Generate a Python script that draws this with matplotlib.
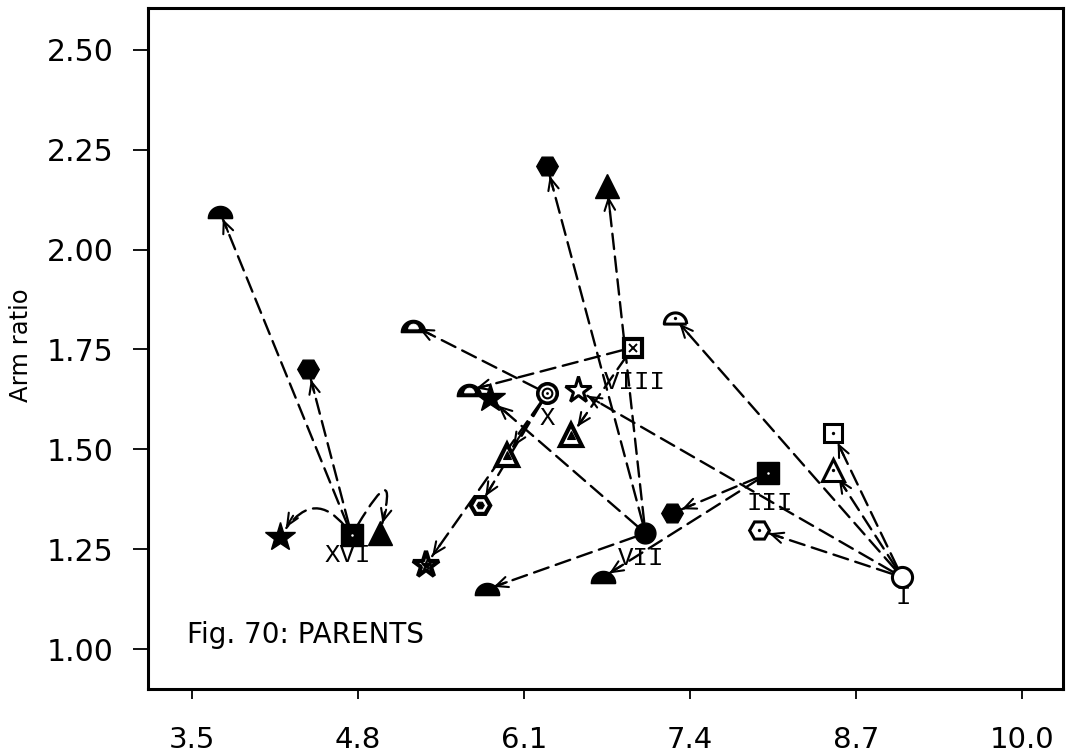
import numpy as np
import matplotlib
matplotlib.use("Agg")
import matplotlib.pyplot as plt
from matplotlib.patches import FancyArrowPatch

# ------------------------------------------------------------------ data
x_ticks = [3.5, 4.8, 6.1, 7.4, 8.7, 10.0]
x_tick_labels = ["3.5", "4.8", "6.1", "7.4", "8.7", "10.0"]
y_ticks = [1.00, 1.25, 1.50, 1.75, 2.00, 2.25, 2.50]
y_tick_labels = ["1.00", "1.25", "1.50", "1.75", "2.00", "2.25", "2.50"]

parent_names = ["XVI", "VII", "III", "X", "VIII", "I"]
parent_length = [4.75, 7.05, 8.01, 6.28, 6.95, 9.06]
parent_ratio = [1.285, 1.29, 1.44, 1.64, 1.755, 1.18]

child_parent = ["XVI", "XVI", "XVI", "XVI",
                "VII", "VII", "VII", "VII",
                "III", "III",
                "X", "X", "X", "X",
                "VIII", "VIII",
                "I", "I", "I", "I", "I"]
child_shape = ["half", "hex", "star", "tri",
               "hex", "tri", "star", "half",
               "hex", "half",
               "half", "tri", "hex", "star",
               "half", "tri",
               "sq", "tri", "hex", "half", "star"]
child_length = [3.72, 4.41, 4.19, 4.97,
                6.28, 6.75, 5.83, 5.81,
                7.26, 6.72,
                5.23, 5.97, 5.755, 5.33,
                5.67, 6.47,
                8.52, 8.52, 7.94, 7.28, 6.52]
child_ratio = [2.093, 1.70, 1.28, 1.29,
               2.21, 2.16, 1.628, 1.15,
               1.34, 1.18,
               1.81, 1.485, 1.36, 1.21,
               1.648, 1.535,
               1.54, 1.448, 1.298, 1.828, 1.648]

# ------------------------------------------------------------------ styles
family_fill = {"XVI": "filled", "VII": "filled", "III": "filled",
               "X": "hatched", "VIII": "hatched", "I": "open"}
parent_style = {"XVI": "sqfill", "VII": "circfill", "III": "sqfill",
                "X": "ring", "VIII": "box", "I": "circopen"}
label_offset = {"XVI": (-3, -14.5), "VII": (-3, -18), "III": (1.5, -21.5),
                "X": (0, -17.5), "VIII": (1.5, -25), "I": (0.7, -14.5)}
curved = {("XVI", "star"): "arc3,rad=0.78",
          ("XVI", "tri"): "angle3,angleA=60,angleB=75"}

t = np.linspace(0, np.pi, 41)
half_verts = np.column_stack([np.cos(t), np.sin(t) - 0.5])
half_verts = np.vstack([half_verts, half_verts[:1]])

shape_marker = {"half": half_verts, "hex": "H", "star": "*", "tri": "^", "sq": "s"}
shape_size = {"half": 17.5, "hex": 15.5, "star": 22.0, "tri": 17.0, "sq": 14.0}
shape_radius = {"half": 5.0, "hex": 7.5, "star": 8.0, "tri": 7.5, "sq": 7.5}

fig = plt.figure(figsize=(10.67, 7.55), dpi=100)
ax = fig.add_axes([148 / 1067, 1 - 689 / 755, 915 / 1067, 681 / 755])
ax.set_xlim(3.155, 10.32)
ax.set_ylim(0.90, 2.605)

for s in ax.spines.values():
    s.set_linewidth(2.2)
ax.set_xticks(x_ticks)
ax.set_xticklabels(x_tick_labels, fontfamily="DejaVu Sans", fontsize=21)
ax.set_yticks(y_ticks)
ax.set_yticklabels(y_tick_labels, fontfamily="DejaVu Sans", fontsize=21.5)
ax.tick_params(axis="x", direction="out", length=7, width=1.3, pad=20)
ax.tick_params(axis="y", direction="out", length=11, width=1.3, pad=14)
ax.set_ylabel("Arm ratio", fontfamily="DejaVu Sans", fontsize=17.5)
ax.yaxis.set_label_coords(-0.1257, 0.505)

ax.text(0.0426, 0.0675, "Fig. 70: PARENTS", transform=ax.transAxes,
        fontfamily="DejaVu Sans", fontsize=20, ha="left", va="baseline")

pidx = {n: i for i, n in enumerate(parent_names)}
px_per_pt = fig.dpi / 72.0


def intersection(x1, y1, c1, s1, x2, y2, c2, s2):
    a, b = s1, -c1
    c, d = s2, -c2
    det = a * d - b * c
    line1 = a * x1 + b * y1
    line2 = c * x2 + d * y2
    ia, ib = d / det, -b / det
    ic, idd = -c / det, a / det
    return ia * line1 + ib * line2, ic * line1 + idd * line2


def control_point(P, C, cs):
    if cs.startswith("arc3"):
        f = float(cs.split("rad=")[1])
        mx, my = (P[0] + C[0]) / 2, (P[1] + C[1]) / 2
        dx, dy = C[0] - P[0], C[1] - P[1]
        return np.array([mx + f * dy, my - f * dx])
    parts = dict(p.split("=") for p in cs.split(",")[1:])
    aA = np.radians(float(parts["angleA"]))
    aB = np.radians(float(parts["angleB"]))
    cx, cy = intersection(P[0], P[1], np.cos(aA), np.sin(aA),
                          C[0], C[1], np.cos(aB), np.sin(aB))
    return np.array([cx, cy])


dash = (0, (6.5, 3.2))
parent_r = 8.0
inv = ax.transData.inverted()
for i in range(len(child_shape)):
    pn = child_parent[i]
    j = pidx[pn]
    P = (parent_length[j], parent_ratio[j])
    C = (child_length[i], child_ratio[i])
    shp = child_shape[i]
    cs = curved.get((pn, shp), "arc3,rad=0.0")
    rB = shape_radius[shp]
    arr = FancyArrowPatch(P, C, arrowstyle="-", connectionstyle=cs,
                          shrinkA=parent_r, shrinkB=rB, lw=1.7,
                          linestyle=dash, color="k", zorder=2)
    ax.add_patch(arr)
    Pd = ax.transData.transform(P)
    Cd = ax.transData.transform(C)
    ctrl = control_point(Pd, Cd, cs)
    u = Cd - ctrl
    u = u / np.hypot(*u)
    tip = Cd - u * rB * px_per_pt
    base = tip - u * 14
    ax.annotate("", xy=inv.transform(tip), xytext=inv.transform(base),
                arrowprops=dict(arrowstyle="->,head_length=0.85,head_width=0.38",
                                lw=1.5, color="k", shrinkA=0, shrinkB=0),
                zorder=3)

# child markers
for i in range(len(child_shape)):
    shp = child_shape[i]
    fill = family_fill[child_parent[i]]
    m = shape_marker[shp]
    ms = shape_size[shp]
    x, y = child_length[i], child_ratio[i]
    if fill == "filled":
        ax.plot([x], [y], marker=m, ms=ms, mfc="k", mec="k", mew=1, ls="none", zorder=4)
    elif fill == "hatched":
        if shp == "half":
            ax.plot([x], [y], marker=m, ms=ms, mfc="k", mec="k", mew=1, ls="none", zorder=4)
            ax.plot([x], [y], marker=m, ms=ms * 0.4, mfc="w", mec="w", mew=0.5, ls="none", zorder=5)
        else:
            ax.plot([x], [y], marker=m, ms=ms * 0.9, mfc="w", mec="k", mew=3.0, ls="none", zorder=4)
            ax.plot([x], [y], marker=m, ms=ms * 0.35, mfc="k", mec="k", mew=0.8, ls="none", zorder=5)
    else:
        ax.plot([x], [y], marker=m, ms=ms * 0.92, mfc="w", mec="k", mew=2.2, ls="none", zorder=4)
        if shp != "star":
            ax.plot([x], [y], marker="o", ms=2.4, mfc="k", mec="k", mew=0, ls="none", zorder=5)

# parent markers
for j, pn in enumerate(parent_names):
    x, y = parent_length[j], parent_ratio[j]
    st = parent_style[pn]
    if st == "sqfill":
        ax.plot([x], [y], marker="s", ms=15.5, mfc="k", mec="k", mew=1, ls="none", zorder=4)
        ax.plot([x], [y], marker="o", ms=1.8, mfc="w", mec="w", mew=0, ls="none", zorder=5)
    elif st == "circfill":
        ax.plot([x], [y], marker="o", ms=15, mfc="k", mec="k", mew=1, ls="none", zorder=4)
    elif st == "ring":
        ax.plot([x], [y], marker="o", ms=14, mfc="w", mec="k", mew=2.6, ls="none", zorder=4)
        ax.plot([x], [y], marker="o", ms=7, mfc="w", mec="k", mew=1.5, ls="none", zorder=5)
        ax.plot([x], [y], marker="o", ms=2.0, mfc="k", mec="k", mew=0, ls="none", zorder=5)
    elif st == "box":
        ax.plot([x], [y], marker="s", ms=13.5, mfc="w", mec="k", mew=3.0, ls="none", zorder=4)
        ax.plot([x], [y], marker="x", ms=5.5, mec="k", mew=1.4, ls="none", zorder=5)
    else:
        ax.plot([x], [y], marker="o", ms=14.5, mfc="w", mec="k", mew=2.2, ls="none", zorder=4)
    ax.annotate(pn, xy=(x, y), xytext=label_offset[pn], textcoords="offset points",
                ha="center", va="center", fontfamily="Liberation Mono",
                fontsize=18.5, zorder=6)

fig.savefig("out.png", dpi=100)
